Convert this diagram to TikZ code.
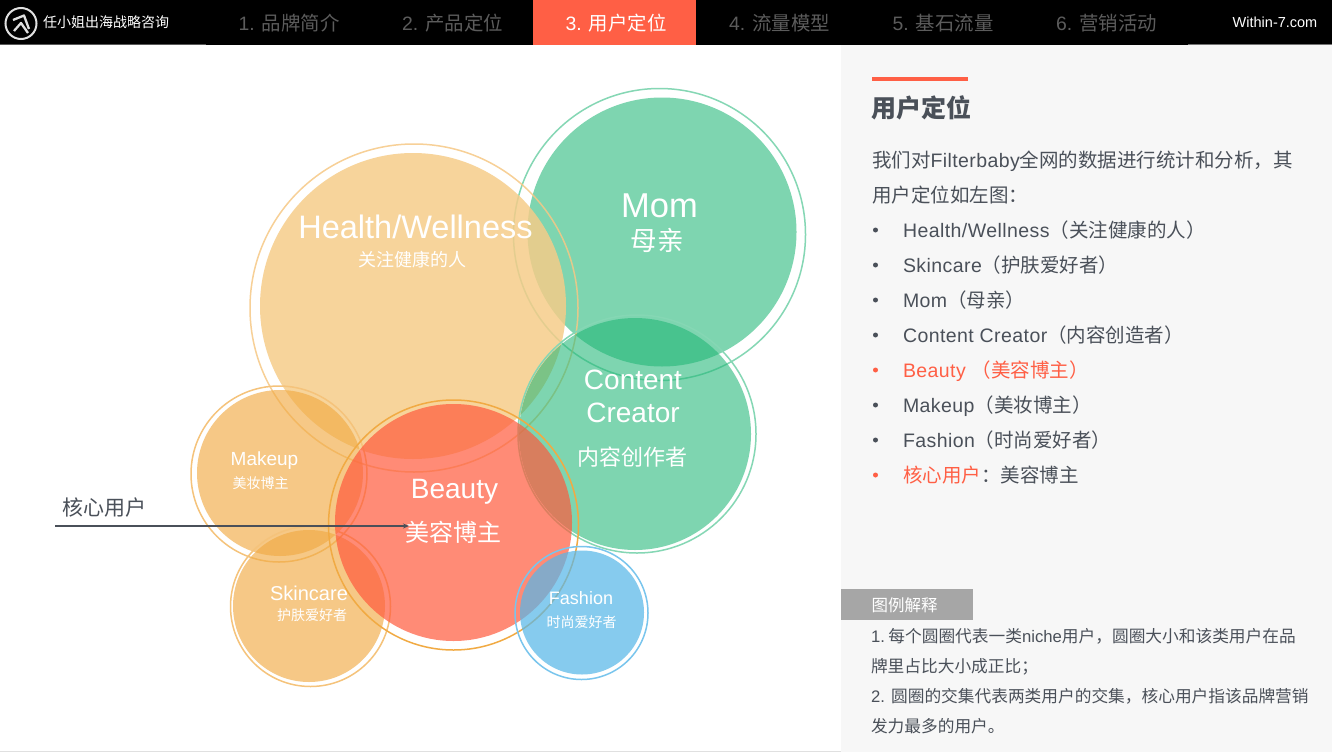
\documentclass[tikz,border=0pt]{standalone}
\usepackage{fontspec}
\setmainfont{Liberation Sans}
\newfontfamily\cj{Noto Sans CJK SC}
\newfontfamily\spaced[LetterSpace=2.2]{Liberation Sans}
\usetikzlibrary{arrows.meta}
\newcommand{\fz}[1]{\fontsize{#1}{#1}\selectfont}
\newcommand{\cn}[1]{{\cj #1}}
\definecolor{ink}{HTML}{4A5059}
\definecolor{coral}{HTML}{FF5F45}
\definecolor{tabgrey}{HTML}{5C5C5C}
\definecolor{panel}{HTML}{F7F7F7}
\definecolor{healthc}{HTML}{F6CC88}
\definecolor{orangec}{HTML}{F1AA43}
\definecolor{greenc}{HTML}{22B777}
\definecolor{beautyc}{HTML}{FF5A3C}
\definecolor{bluec}{HTML}{58B7E8}
\tikzset{
  txt/.style={inner sep=0pt,outer sep=0pt,anchor=base},
  ltxt/.style={inner sep=0pt,outer sep=0pt,anchor=base west},
  intxt/.style={txt,text=white},
  tab/.style={txt,text=tabgrey,font=\fz{19.4}},
  row/.style={ltxt,text=ink,font=\fz{19.5}\spaced},
  rowhot/.style={ltxt,text=coral,font=\fz{19.5}\spaced},
  note/.style={ltxt,text=ink,font=\fz{16.7}},
  ring/.style={line width=1.5pt,fill=none},
  dot/.style={circle,inner sep=0pt,minimum size=5pt,fill=ink},
  dothot/.style={circle,inner sep=0pt,minimum size=5pt,fill=coral},
}
\begin{document}
\begin{tikzpicture}[x=1pt,y=-1pt]
\useasboundingbox (0,0) rectangle (1332,752);
\fill[white] (0,0) rectangle (1332,752);
\fill[panel] (841,45) rectangle (1332,752);
\fill[black] (0,0) rectangle (1332,44);
\fill[black] (206,44) rectangle (1188,45);
\fill[coral] (533,0) rectangle (696,45);
\draw[color=black!65,line width=.8pt] (0,44.4) -- (206,44.4);
\draw[color=black!55,line width=.8pt] (1188,44.4) -- (1332,44.4);
\draw[color=black!12,line width=.8pt] (0,751.5) -- (841,751.5);
% logo
\draw[color=black!12,line width=2pt] (21,23.5) circle[radius=15.5pt];
\draw[color=black!12,line width=2.3pt,line join=round] (14,31) -- (21,23) -- (28,33);
\draw[color=black!12,line width=2.3pt,line join=round] (13,20) -- (24,15.5) -- (29,29);
\node[ltxt,text=white,font=\fz{14}] (brand) at (43,28) {\cn{任小姐出海战略咨询}};
\node[tab] (t1) at (289,31) {1. \cn{品牌简介}};
\node[tab] (t2) at (452.5,31) {2. \cn{产品定位}};
\node[txt,text=white,font=\fz{19.4}] (t3) at (616,31) {3. \cn{用户定位}};
\node[tab] (t4) at (779.5,31) {4. \cn{流量模型}};
\node[tab] (t5) at (943,31) {5. \cn{基石流量}};
\node[tab] (t6) at (1106.5,31) {6. \cn{营销活动}};
\node[txt,text=white,font=\fz{14.5}] (site) at (1275,28) {Within-7.com};
% circles
\fill[greenc,fill opacity=.58] (662,232) circle[radius=134.5pt];
\draw[ring,color=greenc!55] (659.5,234.5) circle[radius=146pt];
\fill[healthc,fill opacity=.84] (413,306) circle[radius=153pt];
\draw[ring,color=orangec!65,draw opacity=.85] (414,308) circle[radius=164pt];
\fill[greenc,fill opacity=.58] (635,434) circle[radius=116pt];
\draw[ring,color=greenc!55] (637,434) circle[radius=119pt];
\fill[orangec,fill opacity=.64] (280,473) circle[radius=83pt];
\draw[ring,color=orangec!70] (279,474) circle[radius=88pt];
\fill[orangec,fill opacity=.64] (309,606) circle[radius=76pt];
\draw[ring,color=orangec!70] (310.5,606.5) circle[radius=80pt];
\node[intxt,font=\fz{20}] (sk) at (309,600) {Skincare};
\fill[beautyc,fill opacity=.7] (453.5,522.5) circle[radius=118.5pt];
\draw[ring,color=orangec] (453.5,525) circle[radius=125pt];
\fill[bluec,fill opacity=.72] (582,612.5) circle[radius=62pt];
\draw[ring,color=bluec!80] (581.5,613) circle[radius=66.5pt];
% circle labels
\node[intxt,font=\fz{32.5}] (hw) at (415.5,238.5) {Health/Wellness};
\node[intxt,font=\fz{18}] (hwc) at (412,266.5) {\cn{关注健康的人}};
\node[intxt,font=\fz{34.5}] (mom) at (659.5,217) {Mom};
\node[intxt,font=\fz{26.5}] (momc) at (657,250) {\cn{母亲}};
\node[intxt,font=\fz{28}] (cc1) at (633,389) {Content};
\node[intxt,font=\fz{28}] (cc2) at (633,422) {Creator};
\node[intxt,font=\fz{22}] (ccc) at (632.5,465) {\cn{内容创作者}};
\node[intxt,font=\fz{28}] (be) at (454.5,498) {Beauty};
\node[intxt,font=\fz{24}] (bec) at (453.5,541) {\cn{美容博主}};
\node[intxt,font=\fz{19}] (mk) at (264.5,465) {Makeup};
\node[intxt,font=\fz{14}] (mkc) at (260.5,488) {\cn{美妆博主}};
\node[intxt,font=\fz{14}] (skc) at (312,620) {\cn{护肤爱好者}};
\node[intxt,font=\fz{18}] (fa) at (581,604) {Fashion};
\node[intxt,font=\fz{14}] (fac) at (581.5,627) {\cn{时尚爱好者}};
% core user arrow
\node[txt,text=ink,font=\fz{21}] (core) at (104.5,515) {\cn{核心用户}};
\coordinate (coreA) at (55,526);
\coordinate (coreB) at (409,526);
\draw[color=ink,line width=1.2pt,-{Stealth[length=6pt,width=5pt]}] (coreA) -- (coreB);
% right panel
\fill[coral] (872,77) rectangle (968,81);
\node[ltxt,text=ink,font=\fz{25}\bfseries] (title) at (871.5,117) {\cn{用户定位}};
\node[row] (p1) at (872,167) {\cn{我们对}Filterbaby\cn{全网的数据进行统计和分析，其}};
\node[row] (p2) at (872,202) {\cn{用户定位如左图：}};
\node[dot] (d1) at (875.5,230) {};
\node[row] (r1) at (903,237) {Health/Wellness\cn{（关注健康的人）}};
\node[dot] (d2) at (875.5,265) {};
\node[row] (r2) at (903,272) {Skincare\cn{（护肤爱好者）}};
\node[dot] (d3) at (875.5,300) {};
\node[row] (r3) at (903,307) {Mom\cn{（母亲）}};
\node[dot] (d4) at (875.5,335) {};
\node[row] (r4) at (903,342) {Content Creator\cn{（内容创造者）}};
\node[dothot] (d5) at (875.5,370) {};
\node[rowhot] (r5) at (903,377) {Beauty \cn{（美容博主）}};
\node[dot] (d6) at (875.5,405) {};
\node[row] (r6) at (903,412) {Makeup\cn{（美妆博主）}};
\node[dot] (d7) at (875.5,440) {};
\node[row] (r7) at (903,447) {Fashion\cn{（时尚爱好者）}};
\node[dothot] (d8) at (875.5,475) {};
\node[row] (r8) at (903,482) {\textcolor{coral}{\cn{核心用户}}\cn{：美容博主}};
% legend
\fill[black!35] (841,589) rectangle (973,620);
\node[ltxt,text=white,font=\fz{16.5}] (lg) at (871.5,611) {\cn{图例解释}};
\node[note] (n1) at (871,642) {1.\hspace{3.5pt}\cn{每个圆圈代表一类}niche\cn{用户，圆圈大小和该类用户在品}};
\node[note] (n2) at (871,672) {\cn{牌里占比大小成正比；}};
\node[note] (n3) at (871,702) {2. \cn{圆圈的交集代表两类用户的交集，核心用户指该品牌营销}};
\node[note] (n4) at (871,732) {\cn{发力最多的用户。}};
\end{tikzpicture}
\end{document}
